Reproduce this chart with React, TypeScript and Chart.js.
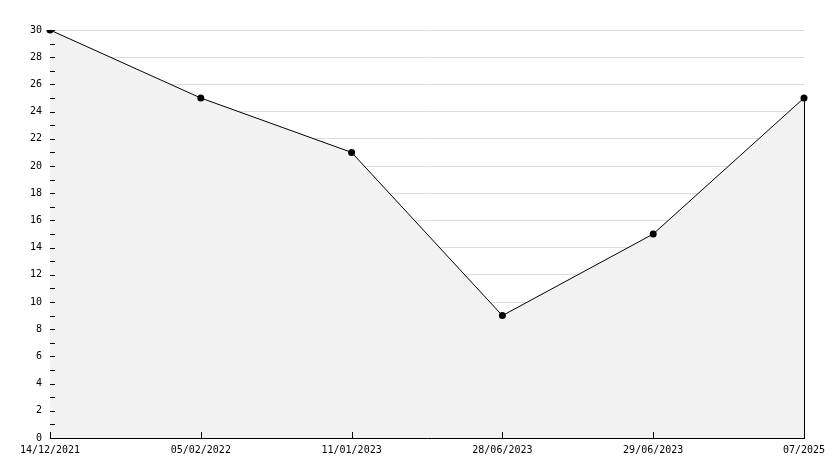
import React, { useEffect, useRef } from "react";
import { Chart, registerables } from "chart.js";

Chart.register(...registerables);

const categories = ["14/12/2021", "05/02/2022", "11/01/2023", "28/06/2023", "29/06/2023", "07/2025"];
const values = [30, 25, 21, 9, 15, 25];
const yMin = 0;
const yMax = 30;
const yStep = 2;

const innerTicks = {
  id: "innerTicks",
  afterDatasetsDraw(chart: any) {
    const { ctx, chartArea, scales } = chart;
    const y = scales.y;
    const x = scales.x;
    ctx.save();
    ctx.strokeStyle = "#000";
    ctx.lineWidth = 1;
    ctx.beginPath();
    for (let v = yMin; v <= yMax; v += 1) {
      const py = Math.round(y.getPixelForValue(v)) + 0.5;
      ctx.moveTo(chartArea.left, py);
      ctx.lineTo(chartArea.left + 5, py);
    }
    for (let i = 0; i < categories.length; i++) {
      const px = Math.round(x.getPixelForValue(i)) + 0.5;
      ctx.moveTo(px, chartArea.bottom);
      ctx.lineTo(px, chartArea.bottom - 6);
    }
    const last = values.length - 1;
    const lx = Math.round(x.getPixelForValue(last)) + 0.5;
    ctx.moveTo(lx, y.getPixelForValue(values[last]));
    ctx.lineTo(lx, y.getPixelForValue(0));
    ctx.stroke();
    ctx.restore();
  },
};

export default function App() {
  const ref = useRef<HTMLCanvasElement>(null);
  useEffect(() => {
    const chart = new Chart(ref.current!, {
      type: "line",
      data: {
        labels: categories,
        datasets: [
          {
            data: values,
            borderColor: "#000",
            borderWidth: 1,
            backgroundColor: "#f2f2f2",
            fill: "origin",
            tension: 0,
            pointStyle: "circle",
            pointRadius: 3.5,
            pointBackgroundColor: "#000",
            pointBorderColor: "#000",
            pointBorderWidth: 0,
          },
        ],
      },
      options: {
        responsive: false,
        animation: false,
        layout: { padding: { top: 30, right: 30, left: 0, bottom: 0 } },
        plugins: { legend: { display: false }, tooltip: { enabled: false } },
        scales: {
          x: {
            type: "category",
            offset: false,
            grid: { display: false, drawTicks: false },
            border: { display: true, color: "#000", width: 1 },
            ticks: {
              autoSkip: false,
              maxRotation: 0,
              padding: 6,
              color: "#000",
              font: { family: "DejaVu Sans Mono", size: 10 },
            },
            afterFit: (s: any) => {
              s.height = 30;
            },
          },
          y: {
            min: yMin,
            max: yMax,
            grid: { color: "#dddddd", drawTicks: false },
            border: { display: true, color: "#000", width: 1 },
            ticks: {
              stepSize: yStep,
              padding: 8,
              color: "#000",
              font: { family: "DejaVu Sans Mono", size: 10 },
            },
            afterFit: (s: any) => {
              s.width = 50;
            },
          },
        },
      },
      plugins: [innerTicks],
    });
    return () => chart.destroy();
  }, []);
  return (
    <div style={{ position: "fixed", left: 0, top: 0, width: 834, height: 468, background: "#fff" }}>
      <canvas ref={ref} width={834} height={468} style={{ display: "block" }} />
    </div>
  );
}
